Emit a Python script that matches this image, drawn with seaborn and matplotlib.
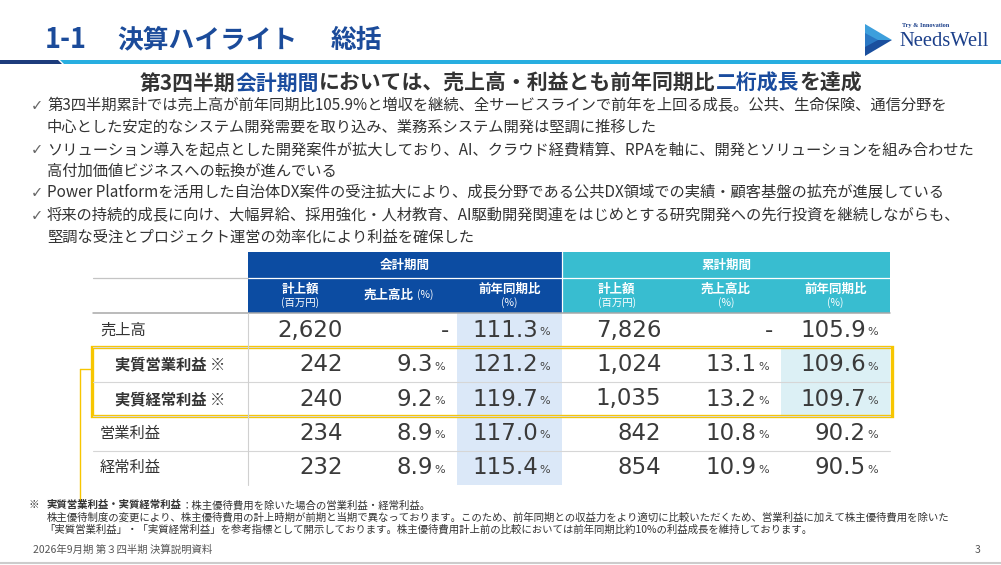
"""
決算ハイライト 総括 スライドの再現 (seaborn heatmap で表の本体を描画)
"""
import numpy as np
import pandas as pd
import seaborn as sns
import matplotlib
matplotlib.use("Agg")
import matplotlib.pyplot as plt
from matplotlib.colors import ListedColormap
from matplotlib.patches import Rectangle, Polygon

# ---- データ ----
row_labels = ['売上高', '実質営業利益 ※', '実質経常利益 ※', '営業利益', '経常利益']
bold_rows = [False, True, True, False, False]
q_amount = [2620, 242, 240, 234, 232]
q_ratio = [None, 9.3, 9.2, 8.9, 8.9]
q_yoy = [111.3, 121.2, 119.7, 117.0, 115.4]
c_amount = [7826, 1024, 1035, 842, 854]
c_ratio = [None, 13.1, 13.2, 10.8, 10.9]
c_yoy = [105.9, 109.6, 109.7, 90.2, 90.5]

block_titles = ['会計期間', '累計期間']

title_no = '1-1'
title_main = '決算ハイライト'
title_sub = '総括'
headline_runs = [('第3四半期', 'dark'), ('会計期間', 'blue'),
                 ('においては、売上高・利益とも前年同期比', 'dark'),
                 ('二桁成長', 'blue'), ('を達成', 'dark')]
bullets = [
    ['第3四半期累計では売上高が前年同期比105.9%と増収を継続、全サービスラインで前年を上回る成長。公共、生命保険、通信分野を',
     '中心とした安定的なシステム開発需要を取り込み、業務系システム開発は堅調に推移した'],
    ['ソリューション導入を起点とした開発案件が拡大しており、AI、クラウド経費精算、RPAを軸に、開発とソリューションを組み合わせた',
     '高付加価値ビジネスへの転換が進んでいる'],
    ['Power Platformを活用した自治体DX案件の受注拡大により、成長分野である公共DX領域での実績・顧客基盤の拡充が進展している'],
    ['将来の持続的成長に向け、大幅昇給、採用強化・人材教育、AI駆動開発関連をはじめとする研究開発への先行投資を継続しながらも、',
     '堅調な受注とプロジェクト運営の効率化により利益を確保した'],
]
note_head = '実質営業利益・実質経常利益'
note_lines = [
    '：株主優待費用を除いた場合の営業利益・経常利益。',
    '株主優待制度の変更により、株主優待費用の計上時期が前期と当期で異なっております。このため、前年同期との収益力をより適切に比較いただくため、営業利益に加えて株主優待費用を除いた',
    '「実質営業利益」・「実質経常利益」を参考指標として開示しております。株主優待費用計上前の比較においては前年同期比約10%の利益成長を維持しております。',
]
footer_text = '2026年9月期 第３四半期 決算説明資料'
page_no = '3'

# ---- スタイル ----
W, H = 1001, 565
JP = ['Noto Sans CJK JP', 'DejaVu Sans']
NUM = ['DejaVu Sans']
DARK = '#333333'
BLUE_TXT = '#1a4c9e'
NAVY = '#0c4ca2'
TEAL = '#38bdd0'
YELLOW = '#f7c600'
colors = {'dark': DARK, 'blue': BLUE_TXT}

sns.set_theme(style='white')
plt.rcParams['font.family'] = JP

fig = plt.figure(figsize=(W / 100, H / 100), dpi=100)
fig.patch.set_facecolor('white')


def px_axes(x0, y0, x1, y1, **kw):
    return fig.add_axes([x0 / W, 1 - y1 / H, (x1 - x0) / W, (y1 - y0) / H], **kw)


# 表の本体 (ハイライト列) を seaborn heatmap で
TOP, BOT = 313, 485
Q_L, MID, C_R = 248, 562, 890
hl_q = np.zeros((len(row_labels), 3))
hl_q[:, 2] = 1
hl_c = np.zeros((len(row_labels), 3))
hl_c[[1, 2], 2] = 2
cmap = ListedColormap(['#ffffff', '#dbe8f8', '#dcf0f5'])
for (x0, x1), hl in [((Q_L, MID), hl_q), ((MID, C_R), hl_c)]:
    axh = px_axes(x0, TOP, x1, BOT)
    sns.heatmap(pd.DataFrame(hl), ax=axh, cmap=cmap, vmin=0, vmax=2, cbar=False,
                xticklabels=False, yticklabels=False)
    axh.set_xlabel('')
    axh.set_ylabel('')

# 前面のキャンバス (ピクセル座標)
ax = px_axes(0, 0, W, H)
ax.set_xlim(0, W)
ax.set_ylim(H, 0)
ax.axis('off')
ax.patch.set_alpha(0)
ax.set_zorder(5)
renderer = fig.canvas.get_renderer()


def runs(x, y, parts, size, **kw):
    for s, c, w in parts:
        t = ax.text(x, y, s, color=c, fontsize=size, fontweight=w, ha='left', va='center',
                    family=JP, **kw)
        x += t.get_window_extent(renderer=renderer).width
    return x


# タイトル
ax.text(45, 40, title_no, fontsize=19.5, fontweight='bold', color='#1b4b9a', va='center', family=JP)
ax.text(117, 40, title_main, fontsize=18.5, fontweight='bold', color='#1b4b9a', va='center', family=JP)
ax.text(331, 40, title_sub, fontsize=18.5, fontweight='bold', color='#1b4b9a', va='center', family=JP)
ax.add_patch(Polygon([(0, 60), (58, 60), (62, 64), (0, 64)], closed=True, color='#1d3c7c', lw=0))
ax.add_patch(Polygon([(60, 60), (W, 60), (W, 64), (64, 64)], closed=True, color='#27aee0', lw=0))

# ロゴ
ax.add_patch(Polygon([(865, 24), (892, 40), (865, 40)], closed=True, color='#3d9fdc', lw=0))
ax.add_patch(Polygon([(865, 40), (892, 40), (865, 56)], closed=True, color='#1a4f9e', lw=0))
ax.add_patch(Polygon([(865, 33), (878, 40), (865, 47)], closed=True, color='#2a78c4', lw=0))
ax.text(902, 25, 'Try & Innovation', fontsize=4.5, fontweight='bold', color='#1b3f8a',
        family='Liberation Serif', va='center')
ax.text(899, 42, 'NeedsWell', fontsize=14.8, color='#1b3f8a', family='Liberation Serif',
        va='center')

# 見出し
runs(140, 83, [(s, colors[c], 'bold') for s, c in headline_runs], 15)

# 箇条書き
line_y = [[106, 127], [150, 171], [193], [216, 237]]
for lines, ys in zip(bullets, line_y):
    ax.text(31, ys[0], '✓', fontsize=10.5, color='#666666', va='center', family=['DejaVu Sans'])
    for s, y in zip(lines, ys):
        ax.text(47, y, s, fontsize=11, color=DARK, va='center', family=JP)

# 表のヘッダー
HT, HM = 252, 278
ax.add_patch(Rectangle((Q_L, HT), MID - Q_L, TOP - HT, color=NAVY, lw=0))
ax.add_patch(Rectangle((MID, HT), C_R - MID, TOP - HT, color=TEAL, lw=0))
ax.plot([Q_L, C_R], [HM, HM], color='white', lw=0.9)
ax.plot([MID, MID], [HT, TOP], color='white', lw=0.9)
ax.plot([93, Q_L], [HM, HM], color='#c4c4c4', lw=0.9)
ax.plot([93, C_R], [TOP, TOP], color='#a8a8a8', lw=1.1)
for title, (x0, x1) in zip(block_titles, [(Q_L, MID), (MID, C_R)]):
    ax.text((x0 + x1) / 2, (HT + HM) / 2, title, fontsize=9, fontweight='bold', color='white',
            ha='center', va='center', family=JP)

blocks = [(Q_L, MID, q_amount, q_ratio, q_yoy), (MID, C_R, c_amount, c_ratio, c_yoy)]
for k, (x0, x1, amt, ratio, yoy) in enumerate(blocks):
    w = (x1 - x0) / 3
    cx = [x0 + w * (j + 0.5) for j in range(3)]
    ax.text(cx[0], 289, '計上額', fontsize=9, fontweight='bold', color='white', ha='center', va='center')
    ax.text(cx[0], 303, '(百万円)', fontsize=7.5, color='white', ha='center', va='center')
    if k == 0:
        ax.text(cx[1] + 9, 295, '売上高比', fontsize=9, fontweight='bold', color='white', ha='right', va='center')
        ax.text(cx[1] + 12, 295, '(%)', fontsize=7.5, color='white', ha='left', va='center')
    else:
        ax.text(cx[1], 289, '売上高比', fontsize=9, fontweight='bold', color='white', ha='center', va='center')
        ax.text(cx[1], 303, '(%)', fontsize=7.5, color='white', ha='center', va='center')
    ax.text(cx[2], 289, '前年同期比', fontsize=9, fontweight='bold', color='white', ha='center', va='center')
    ax.text(cx[2], 303, '(%)', fontsize=7.5, color='white', ha='center', va='center')

    # 数値
    rh = (BOT - TOP) / len(row_labels)
    for i in range(len(row_labels)):
        y = TOP + rh * (i + 0.5)
        ax.text(x0 + w - 10, y, f'{amt[i]:,}', fontsize=16.5, color='#3a3a3a', ha='right',
                va='center', family=NUM)
        for j, vals in [(1, ratio), (2, yoy)]:
            r = x0 + w * (j + 1)
            if vals[i] is None:
                ax.text(r - 8, y, '-', fontsize=16.5, color='#3a3a3a', ha='right', va='center', family=NUM)
            else:
                ax.text(r - 24, y, f'{vals[i]:.1f}', fontsize=16.5, color='#3a3a3a', ha='right',
                        va='center', family=NUM)
                ax.text(r - 22.5, y + 2, '%', fontsize=8, color='#444444', ha='left',
                        va='center', family=NUM)

# 行ラベルと罫線
rh = (BOT - TOP) / len(row_labels)
for i, (lab, b) in enumerate(zip(row_labels, bold_rows)):
    y = TOP + rh * (i + 0.5)
    ax.text(115 if b else 100, y, lab, fontsize=11, fontweight='bold' if b else 'normal',
            color=DARK, ha='left', va='center', family=JP)
    if i > 0:
        ax.plot([93, C_R], [TOP + rh * i] * 2, color='#d6d6d6', lw=0.8)
ax.plot([Q_L, Q_L], [TOP, BOT], color='#d0d0d0', lw=0.8)

# 黄色枠と引き出し線
ax.add_patch(Rectangle((92, TOP + rh), 800, 2 * rh, fill=False, ec=YELLOW, lw=2.4))
ax.plot([80, 92], [369, 369], color=YELLOW, lw=1)
ax.plot([80, 80], [369, 500], color=YELLOW, lw=1)

# 注記
ax.text(28, 505, '※', fontsize=7.5, color=DARK, va='center', family=JP)
runs(47, 505, [(note_head, DARK, 'bold'), (note_lines[0], DARK, 'normal')], 7.5)
ax.text(47, 517, note_lines[1], fontsize=7.5, color=DARK, va='center', family=JP)
ax.text(44, 529, note_lines[2], fontsize=7.5, color=DARK, va='center', family=JP)

# フッター
ax.text(33, 550, footer_text, fontsize=7.5, color='#555555', va='center', family=JP)
ax.text(975, 550, page_no, fontsize=7.5, color='#555555', va='center', family=JP)
ax.plot([0, W], [563, 563], color='#cccccc', lw=1.5)

fig.savefig('out.png', dpi=100)
